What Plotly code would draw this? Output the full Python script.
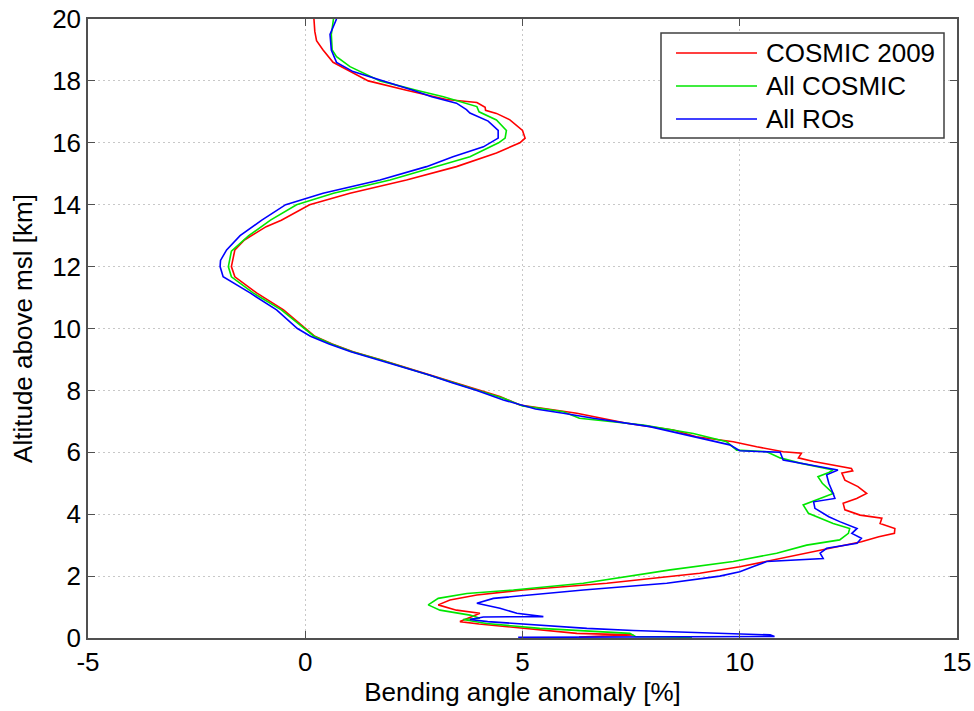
import plotly.graph_objects as go

# ---------------- data ----------------
red_alt = [20.0, 19.6, 19.3, 19.0, 18.6, 18.3, 18.0, 17.7, 17.4, 17.3, 17.15, 17.05, 16.95, 16.74, 16.4,
           16.15, 16.0, 15.67, 15.23, 14.8, 14.37, 14.0, 13.72, 13.5, 13.29, 12.86, 12.54, 12.0, 11.67,
           11.15, 10.6, 10.0, 9.75, 9.5, 9.25, 9.0, 8.75, 8.5, 8.25, 8.0, 7.8, 7.53, 7.33, 7.26, 6.94, 6.72, 6.5,
           6.34, 6.18, 6.02, 5.97, 5.82, 5.7, 5.48, 5.4, 5.33, 5.1, 4.89, 4.67, 4.51, 4.35, 4.14, 3.97,
           3.87, 3.7, 3.54, 3.38, 3.27, 3.11, 2.9, 2.68, 2.47, 2.3, 2.09, 1.87, 1.77, 1.55, 1.39, 1.23,
           1.07, 0.9, 0.8, 0.69, 0.53, 0.45, 0.26, 0.15, 0.1, 0.03]
red_val = [0.20, 0.22, 0.26, 0.41, 0.64, 1.03, 1.45, 2.33, 3.25, 3.95, 4.14, 4.15, 4.40, 4.71, 5.00,
           5.06, 4.94, 4.40, 3.48, 2.33, 1.03, 0.10, -0.25, -0.55, -0.90, -1.40, -1.62, -1.70, -1.62,
           -1.12, -0.50, 0.00, 0.22, 0.62, 1.10, 1.72, 2.30, 2.90, 3.45, 4.02, 4.48, 4.94, 5.90, 6.25, 7.40, 8.47, 9.00,
           9.85, 10.39, 11.00, 11.42, 11.35, 11.70, 12.57, 12.60, 12.35, 12.42, 12.72, 12.92, 12.69, 12.38, 12.42, 12.77,
           13.27, 13.23, 13.57, 13.56, 13.20, 12.80, 12.07, 11.39, 10.62, 10.00, 9.08, 7.70, 6.94, 5.01, 3.95, 3.33,
           3.06, 3.48, 4.02, 3.83, 3.56, 4.00, 5.40, 6.25, 7.55, 6.30]

green_alt = [20.0, 19.5, 19.0, 18.78, 18.46, 18.0, 17.7, 17.49, 17.17, 17.0, 16.74, 16.4, 16.15, 16.0,
             15.55, 15.23, 14.8, 14.37, 14.0, 13.5, 13.0, 12.5, 12.0, 11.67, 11.15, 10.6, 10.0, 9.75,
             9.5, 9.25, 9.0, 8.75, 8.5, 8.25, 8.0, 7.75, 7.5, 7.31, 7.1, 6.88, 6.61, 6.34, 6.07, 6.02, 5.82, 5.65,
             5.43, 5.35, 5.21, 5.0, 4.67, 4.46, 4.3, 4.03, 3.87, 3.7, 3.54, 3.38, 3.17, 3.0, 2.74, 2.47,
             2.2, 2.0, 1.77, 1.55, 1.44, 1.28, 1.07, 0.9, 0.74, 0.64, 0.6, 0.47, 0.31, 0.15, 0.05, 0.02]
green_val = [0.65, 0.60, 0.62, 0.72, 1.03, 1.72, 2.56, 3.18, 3.95, 4.00, 4.40, 4.63, 4.60, 4.45,
             3.79, 3.02, 1.95, 0.65, -0.20, -0.80, -1.30, -1.70, -1.77, -1.70, -1.20, -0.55, -0.02, 0.20,
             0.60, 1.08, 1.70, 2.28, 2.88, 3.42, 3.98, 4.56, 5.00, 5.94, 6.31, 7.78, 8.93, 9.70, 9.93, 10.62, 10.93, 11.39,
             12.15, 12.05, 11.80, 11.90, 12.15, 11.77, 11.46, 11.58, 11.85, 12.15, 12.53, 12.50, 12.30, 11.54, 10.85, 9.85,
             8.40, 7.50, 6.40, 4.79, 3.72, 3.06, 2.83, 3.10, 3.79, 4.02, 3.63, 4.17, 5.40, 7.47, 7.60, 8.90]

blue_alt = [20.0, 19.5, 19.0, 18.6, 18.3, 18.0, 17.7, 17.49, 17.28, 17.07, 16.96, 16.7, 16.4, 16.15,
            15.87, 15.55, 15.23, 14.8, 14.37, 14.0, 13.5, 13.0, 12.54, 12.2, 12.0, 11.67, 11.15, 10.6,
            10.0, 9.75, 9.5, 9.25, 9.0, 8.75, 8.5, 8.25, 8.0, 7.69, 7.4, 7.26, 7.1, 6.83, 6.45, 6.24, 6.05, 6.0,
            5.75, 5.53, 5.43, 5.27, 5.0, 4.67, 4.51, 4.4, 4.19, 3.92, 3.76, 3.54, 3.38, 3.22, 3.06, 2.9,
            2.74, 2.57, 2.47, 2.3, 2.14, 2.0, 1.77, 1.55, 1.39, 1.28, 1.12, 0.96, 0.8, 0.69, 0.68, 0.6,
            0.53, 0.42, 0.31, 0.24, 0.17, 0.1, 0.05, 0.02]
blue_val = [0.72, 0.57, 0.60, 0.72, 1.10, 1.80, 2.48, 2.91, 3.48, 3.71, 3.79, 4.21, 4.44, 4.44,
            4.10, 3.40, 2.79, 1.72, 0.41, -0.45, -1.00, -1.50, -1.81, -1.95, -1.96, -1.89, -1.27, -0.66,
            -0.18, 0.12, 0.55, 1.05, 1.66, 2.25, 2.85, 3.38, 3.95, 4.56, 5.30, 5.94, 6.63, 7.93, 9.16, 9.77, 10.00, 10.93,
            11.00, 11.85, 12.26, 12.00, 12.05, 12.15, 12.19, 11.70, 11.73, 12.05, 12.30, 12.70, 12.58, 12.80, 12.70, 12.00,
            11.85, 11.92, 10.62, 10.30, 10.00, 9.54, 8.32, 6.40, 5.10, 4.33, 3.95, 4.48, 4.87, 5.48, 4.10, 3.79,
            4.20, 5.25, 6.48, 7.55, 9.08, 10.70, 10.80, 4.90]

series_names = ["COSMIC 2009", "All COSMIC", "All ROs"]
series_colors = ["#ff0000", "#00e600", "#0000ff"]
x_ticks = [-5, 0, 5, 10, 15]
x_tick_text = ["-5", "0", "5", "10", "15"]
y_ticks = [0, 2, 4, 6, 8, 10, 12, 14, 16, 18, 20]
x_title = "Bending angle anomaly [%]"
y_title = "Altitude above msl [km]"

# ---------------- figure ----------------
W, H = 974, 711
L, R, T, B = 88, 17, 19, 73
FONT = "Liberation Sans, Arial, Helvetica, sans-serif"
FS = 26

fig = go.Figure()
for name, col, xs, ys in zip(series_names, series_colors,
                             [red_val, green_val, blue_val],
                             [red_alt, green_alt, blue_alt]):
    fig.add_trace(go.Scatter(x=xs, y=ys, mode="lines", name=name,
                             line=dict(color=col, width=1.6), showlegend=False))

axis_common = dict(
    showline=True, linecolor="#505050", linewidth=1.5, mirror="ticks",
    ticks="inside", ticklen=7, tickcolor="#505050", tickwidth=1.3,
    showgrid=True, gridcolor="#c8c8c8", griddash="2px,3px", gridwidth=1,
    zeroline=False, tickfont=dict(family=FONT, size=FS, color="black"),
    automargin=False,
)
fig.update_xaxes(range=[-5, 15], tickvals=x_ticks, ticktext=x_tick_text, **axis_common,
                 title=dict(text=x_title, font=dict(family=FONT, size=FS, color="black"), standoff=6))
fig.update_yaxes(range=[0, 20], tickvals=y_ticks, **axis_common,
                 title=dict(text=y_title, font=dict(family=FONT, size=FS, color="black"), standoff=12))

pw, ph = W - L - R, H - T - B


def px2paper(px, py):
    return (px - L) / pw, (H - B - py) / ph


# manual legend (MATLAB style, long line samples)
bx0, by0 = px2paper(661, 33)
bx1, by1 = px2paper(944, 138)
shapes = [dict(type="rect", xref="paper", yref="paper", x0=bx0, x1=bx1, y0=by1, y1=by0,
               line=dict(color="#404040", width=1.5), fillcolor="white", layer="above")]
annos = []
for i, (name, col) in enumerate(zip(series_names, series_colors)):
    cy = 53 + i * 33
    lx0, ly = px2paper(676, cy)
    lx1, _ = px2paper(757, cy)
    tx, _ = px2paper(764, cy)
    shapes.append(dict(type="line", xref="paper", yref="paper", x0=lx0, x1=lx1, y0=ly, y1=ly,
                       line=dict(color=col, width=1.6), layer="above"))
    annos.append(dict(xref="paper", yref="paper", x=tx, y=ly, text=name, showarrow=False,
                      xanchor="left", yanchor="middle",
                      font=dict(family=FONT, size=FS, color="black")))

fig.update_layout(
    width=W, height=H, margin=dict(l=L, r=R, t=T, b=B),
    paper_bgcolor="white", plot_bgcolor="white",
    shapes=shapes, annotations=annos, showlegend=False,
)
fig.write_html("out.html")
